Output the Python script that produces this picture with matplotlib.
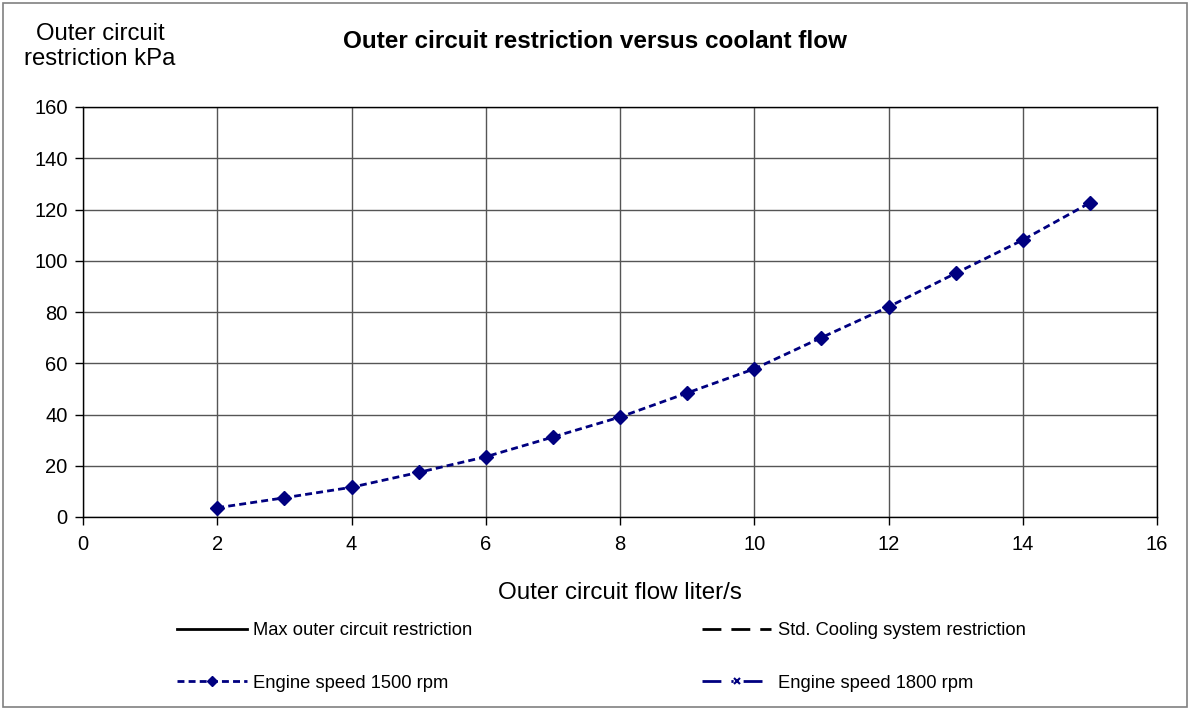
import matplotlib
matplotlib.use('Agg')
import matplotlib.pyplot as plt
from matplotlib.patches import Rectangle

plt.rcParams['font.family'] = ['Liberation Sans', 'DejaVu Sans']

# Data
flow = [2, 3, 4, 5, 6, 7, 8, 9, 10, 11, 12, 13, 14, 15]
restr_1500 = [3.6, 7.5, 11.6, 17.4, 23.5, 31.2, 39.0, 48.4, 57.8, 70.0, 82.0, 95.1, 108.1, 122.6]
# series shown only in the legend (no points visible in the chart)
max_restr = []
std_restr = []
restr_1800 = []

x_ticks = list(range(0, 17, 2))
y_ticks = list(range(0, 161, 20))

navy = '#000080'

fig = plt.figure(figsize=(11.9, 7.1), dpi=100)
ax = fig.add_axes([83 / 1190, 193 / 710, 1074 / 1190, 410 / 710])

ax.plot(flow[:0], max_restr, color='black', lw=2, ls='-', label='Max outer circuit restriction')
ax.plot(flow[:0], std_restr, color='black', lw=2, ls=(0, (6.8, 3.6)), label='Std. Cooling system restriction')
ax.plot(flow, restr_1500, color=navy, lw=2, ls=(0, (2.5, 1.5)), marker='D', ms=7,
        label='Engine speed 1500 rpm')
ax.plot(flow[:0], restr_1800, color=navy, lw=2, ls=(0, (6.8, 3.6, 0.8, 3.6)), marker='x', ms=6,
        mew=1.5, label='Engine speed 1800 rpm')

ax.set_xlim(0, 16)
ax.set_ylim(0, 160)
ax.set_xticks(x_ticks)
ax.set_yticks(y_ticks)
ax.tick_params(labelsize=14.5, length=6, width=1, direction='out', color='black')
ax.tick_params(axis='x', pad=7)
ax.tick_params(axis='y', pad=5)
ax.grid(True, color='#555555', lw=1)
ax.set_axisbelow(True)
for s in ax.spines.values():
    s.set_color('black')
    s.set_linewidth(1)

ax.set_xlabel('Outer circuit flow liter/s', fontsize=17.4, labelpad=20)
fig.text(100 / 1190, 1 - 46.5 / 710, 'Outer circuit\nrestriction kPa', fontsize=17.2,
         ha='center', va='center', linespacing=1.2)
fig.text(595 / 1190, 1 - 41 / 710, 'Outer circuit restriction versus coolant flow',
         fontsize=17.5, fontweight='bold', ha='center', va='center')

handles, labels = ax.get_legend_handles_labels()
order = [0, 2, 1, 3]
leg = fig.legend([handles[i] for i in order], [labels[i] for i in order],
                 ncol=2, loc='center', bbox_to_anchor=(601.5 / 1190, 1 - 657 / 710),
                 frameon=False, fontsize=13.2, handlelength=3.8, handletextpad=0.35,
                 columnspacing=12.5, labelspacing=1.95, markerscale=0.8)

fig.patches.append(Rectangle((3 / 1190, 3 / 710), 1184 / 1190, 704 / 710,
                             transform=fig.transFigure, fill=False,
                             edgecolor='#808080', lw=1.2))

fig.savefig('out.png', dpi=100)
